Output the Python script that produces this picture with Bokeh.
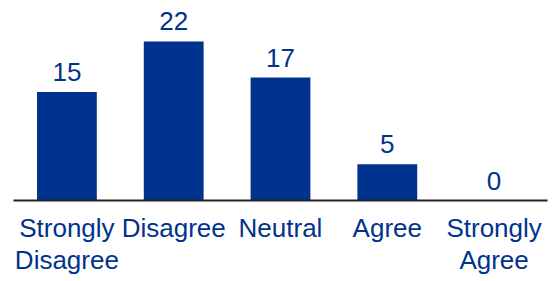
from bokeh.plotting import figure
from bokeh.models import ColumnDataSource, Range1d, FixedTicker
from bokeh.embed import file_html
from bokeh.resources import INLINE
from bokeh.core.properties import value

categories = ["Strongly Disagree", "Disagree", "Neutral", "Agree", "Strongly Agree"]
tick_labels = ["Strongly\nDisagree", "Disagree", "Neutral", "Agree", "Strongly\nAgree"]
counts = [15, 22, 17, 5, 0]

BLUE = "#00338D"
FONT = "Liberation Sans"
FS = "26px"

xs = list(range(len(categories)))
src = ColumnDataSource(dict(x=xs, cat=categories, val=counts, lab=[str(v) for v in counts]))

p = figure(x_range=Range1d(-0.5, len(categories) - 0.5), y_range=Range1d(0, 27.66),
           width=552, height=281, output_backend="svg", toolbar_location=None,
           min_border_left=13, min_border_right=5, min_border_top=0, min_border_bottom=81)
p.vbar(x="x", top="val", width=0.56, source=src, fill_color=BLUE, line_color=None)
p.text(x="x", y="val", text="lab", source=src, text_align="center", text_baseline="alphabetic",
       y_offset=-20, text_color=BLUE, text_font=value(FONT), text_font_size=FS)

p.outline_line_color = None
p.grid.visible = False
p.yaxis.visible = False
ax = p.xaxis[0]
ax.ticker = FixedTicker(ticks=xs)
ax.axis_line_color = "#222222"
ax.axis_line_width = 2
ax.major_tick_line_color = None
ax.minor_tick_line_color = None
ax.major_label_standoff = 6
ax.major_label_text_font = FONT
ax.major_label_text_font_size = FS
ax.major_label_text_color = BLUE
ax.major_label_text_line_height = 1.08
ax.major_label_overrides = {i: t for i, t in zip(xs, tick_labels)}

open("out.html", "w").write(file_html(p, INLINE))
